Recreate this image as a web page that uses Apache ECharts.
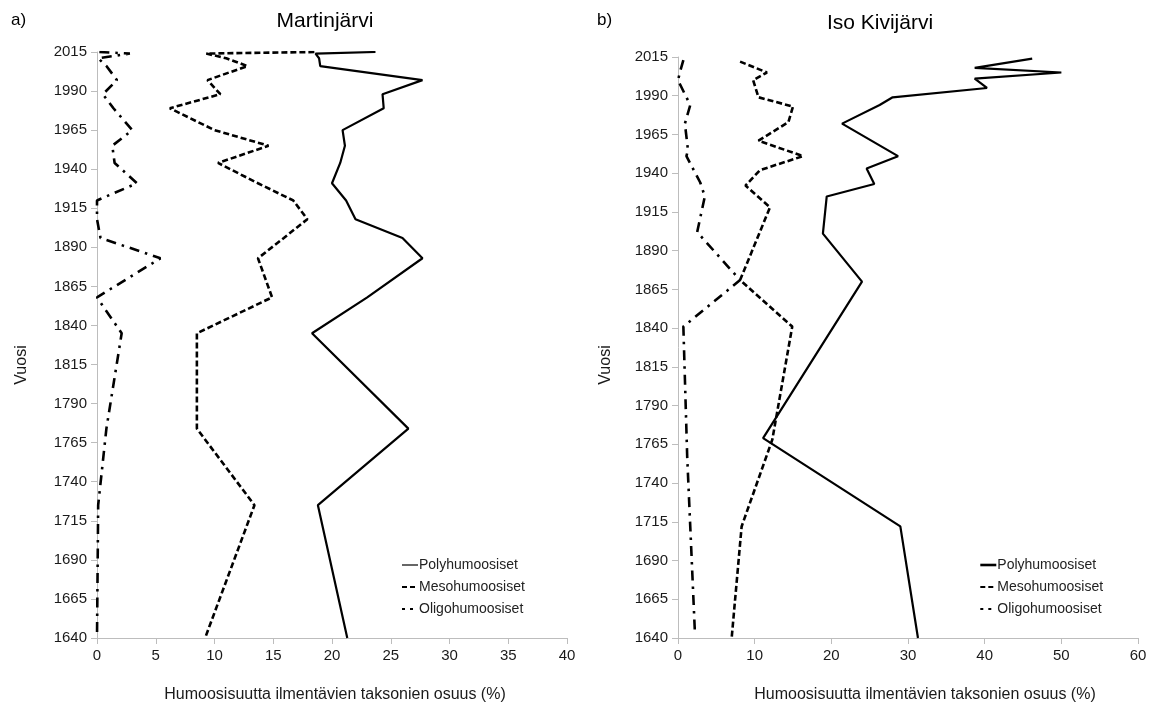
<!DOCTYPE html>
<html>
<head>
<meta charset="utf-8">
<script src="https://cdn.jsdelivr.net/npm/echarts@6/dist/echarts.min.js"></script>
<style>
  html, body { margin: 0; padding: 0; background: #fff; }
  #chart { width: 1159px; height: 715px; }
</style>
</head>
<body>
<div id="chart"></div>
<script>
// Martinjärvi: sample years (AD) and share of taxa (%) per humic class
const martinYears = [2015, 2014, 2011, 2006, 1997, 1988, 1979, 1965, 1955, 1944, 1931, 1920, 1908, 1896, 1883, 1858, 1835, 1774, 1725, 1640];
const martinPoly  = [23.7, 18.6, 18.9, 19.0, 27.7, 24.3, 24.4, 20.9, 21.1, 20.7, 20.0, 21.2, 22.0, 26.0, 27.7, 23.0, 18.3, 26.5, 18.8, 21.3];
const martinMeso  = [18.5, 9.3, 11.0, 12.8, 9.4, 10.5, 6.2, 10.0, 14.6, 10.3, 13.7, 16.7, 17.9, 15.9, 13.7, 14.9, 8.5, 8.5, 13.4, 9.2];
const martinOligo = [0.2, 2.8, 0.1, 0.8, 1.7, 0.5, 1.4, 3.0, 1.3, 1.5, 3.4, 0.0, 0.0, 0.3, 5.4, 0.0, 2.1, 0.8, 0.1, 0.0];

// Iso Kivijärvi: each class has its own sample years
const kiviPolyYears  = [2014, 2008, 2005, 2001, 1995, 1989, 1984, 1972, 1951, 1943, 1933, 1925, 1901, 1870, 1769, 1712, 1640];
const kiviPoly       = [46.2, 38.7, 50.0, 38.7, 40.3, 28.0, 26.3, 21.4, 28.7, 24.6, 25.6, 19.4, 18.9, 24.0, 11.1, 29.0, 31.3];
const kiviMesoYears  = [2012, 2005, 2000, 1989, 1983, 1973, 1961, 1951, 1942, 1932, 1918, 1871, 1841, 1768, 1712, 1640];
const kiviMeso       = [8.1, 11.6, 9.8, 10.5, 15.0, 14.4, 10.5, 16.3, 10.7, 8.8, 12.0, 8.1, 14.9, 12.3, 8.3, 7.0];
const kiviOligoYears = [2013, 2006, 2000, 1984, 1972, 1955, 1951, 1934, 1925, 1902, 1871, 1841, 1757, 1644];
const kiviOligo      = [0.7, 0.3, 0.0, 1.6, 0.9, 1.3, 1.1, 2.9, 3.5, 2.5, 8.1, 0.7, 1.2, 2.2];

// Axis ticks
const yearMin = 1640, yearMax = 2015, yearStep = 25;
const martinXMax = 40, martinXStep = 5;
const kiviXMax = 60, kiviXStep = 10;

const seriesNames = ['Polyhumoosiset', 'Mesohumoosiset', 'Oligohumoosiset'];
const titles = ['Martinjärvi', 'Iso Kivijärvi'];
const xName = 'Humoosisuutta ilmentävien taksonien osuus (%)';
const yName = 'Vuosi';

const pair = (vals, years) => vals.map((v, i) => [v, years[i]]);

const FONT = 'Liberation Sans, Arial, sans-serif';
const AXIS_GRAY = '#bdbdbd';
const TEXT = '#1a1a1a';

const styles = [
  { type: 'solid', width: 2.2 },
  { type: [6, 3], width: 2.6 },
  { type: [10, 6, 2.5, 6], width: 2.6 }
];

function xAxis(gridIndex, max, step) {
  return {
    type: 'value', gridIndex, min: 0, max, interval: step,
    axisLine: { show: true, lineStyle: { color: AXIS_GRAY, width: 1 } },
    axisTick: { show: true, length: 6, lineStyle: { color: AXIS_GRAY } },
    axisLabel: { color: TEXT, fontSize: 15, fontFamily: FONT, margin: 10, formatter: v => String(v) },
    splitLine: { show: false }
  };
}
function yAxis(gridIndex) {
  return {
    type: 'value', gridIndex, min: yearMin, max: yearMax, interval: yearStep,
    axisLine: { show: true, lineStyle: { color: AXIS_GRAY, width: 1 } },
    axisTick: { show: true, length: 6, lineStyle: { color: AXIS_GRAY } },
    axisLabel: { color: TEXT, fontSize: 15, fontFamily: FONT, margin: 10, formatter: v => String(v) },
    splitLine: { show: false }
  };
}
function line(name, xIdx, data, st) {
  return {
    name, type: 'line', xAxisIndex: xIdx, yAxisIndex: xIdx, data,
    symbol: 'none', silent: true, animation: false,
    lineStyle: { color: '#000', type: st.type, width: st.width },
    itemStyle: { color: '#000' }
  };
}
function legend(left, polyWidth) {
  return {
    left, top: 553, orient: 'vertical', itemGap: 8, itemWidth: 16, itemHeight: 14,
    data: [
      { name: seriesNames[0], lineStyle: { width: polyWidth } },
      { name: seriesNames[1], lineStyle: { type: [5, 3] } },
      { name: seriesNames[2], lineStyle: { type: [3, 5] } }
    ],
    selectedMode: false,
    itemStyle: { opacity: 0 },
    textStyle: { fontFamily: FONT, fontSize: 14, color: '#222', padding: [0, 0, 0, -4] }
  };
}

const chart = echarts.init(document.getElementById('chart'), null, { renderer: 'canvas' });
chart.setOption({
  animation: false,
  backgroundColor: '#fff',
  title: [
    { text: titles[0], left: 320, top: 6, textAlign: 'center', textStyle: { fontFamily: FONT, fontSize: 21, fontWeight: 'normal', color: '#000' } },
    { text: titles[1], left: 875, top: 8, textAlign: 'center', textStyle: { fontFamily: FONT, fontSize: 21, fontWeight: 'normal', color: '#000' } },
    { text: 'a)', left: 6, top: 7, textStyle: { fontFamily: FONT, fontSize: 17, fontWeight: 'normal', color: '#000' } },
    { text: 'b)', left: 592, top: 7, textStyle: { fontFamily: FONT, fontSize: 17, fontWeight: 'normal', color: '#000' } },
    { text: xName, left: 330, top: 682, textAlign: 'center', textStyle: { fontFamily: FONT, fontSize: 16, fontWeight: 'normal', color: TEXT } },
    { text: xName, left: 920, top: 682, textAlign: 'center', textStyle: { fontFamily: FONT, fontSize: 16, fontWeight: 'normal', color: TEXT } }
  ],
  grid: [
    { left: 97, top: 52, width: 470, height: 586 },
    { left: 678, top: 57, width: 460, height: 581 }
  ],
  xAxis: [xAxis(0, martinXMax, martinXStep), xAxis(1, kiviXMax, kiviXStep)],
  yAxis: [yAxis(0), yAxis(1)],
  legend: [legend(396, 1.2), legend(974, 2.6)],
  graphic: [
    { type: 'text', x: 22, y: 365, rotation: Math.PI / 2, style: { text: yName, font: '16px ' + FONT, fill: TEXT, textAlign: 'center', textVerticalAlign: 'middle' } },
    { type: 'text', x: 606, y: 365, rotation: Math.PI / 2, style: { text: yName, font: '16px ' + FONT, fill: TEXT, textAlign: 'center', textVerticalAlign: 'middle' } }
  ],
  series: [
    line(seriesNames[0], 0, pair(martinPoly, martinYears), styles[0]),
    line(seriesNames[1], 0, pair(martinMeso, martinYears), styles[1]),
    line(seriesNames[2], 0, pair(martinOligo, martinYears), styles[2]),
    line(seriesNames[0], 1, pair(kiviPoly, kiviPolyYears), styles[0]),
    line(seriesNames[1], 1, pair(kiviMeso, kiviMesoYears), styles[1]),
    line(seriesNames[2], 1, pair(kiviOligo, kiviOligoYears), styles[2])
  ]
});
</script>
</body>
</html>
